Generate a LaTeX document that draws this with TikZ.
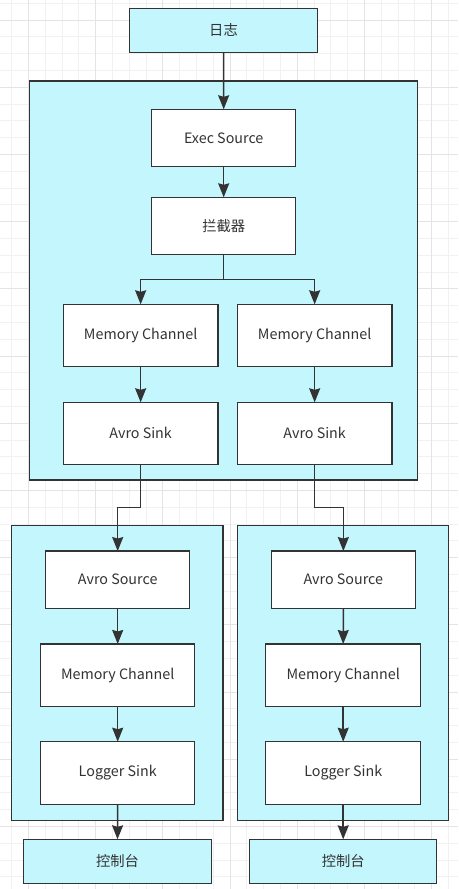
\documentclass[tikz,border=0pt]{standalone}
\usepackage{fontspec}
\setmainfont{Noto Sans CJK SC}
\usetikzlibrary{arrows.meta}
\definecolor{cyanfill}{HTML}{C4F7FD}
\definecolor{edge}{HTML}{333333}
\definecolor{gridminor}{HTML}{F1F1F1}
\definecolor{gridmajor}{HTML}{E4E4E4}
\begin{document}
\begin{tikzpicture}[x=1pt,y=-1pt,
  box/.style={draw=edge, line width=1.5pt, fill=white, inner sep=0pt, outer sep=0pt, text=edge, font=\fontsize{14.3}{16}\selectfont},
  cbox/.style={box, fill=cyanfill},
  frame/.style={draw=edge, line width=1.5pt, fill=cyanfill, inner sep=0pt, outer sep=0pt},
  conn/.style={draw=edge, line width=1.5pt, -{Stealth[length=14pt,width=11pt,inset=1.5pt]}}]
\useasboundingbox (0,0) rectangle (458,889);
\fill[white] (0,0) rectangle (458,889);
% grid
\foreach \i in {0,...,26} \draw[gridminor, line width=1pt] (11.7+16.8*\i,0) -- ++(0,889);
\foreach \i in {0,...,52} \draw[gridminor, line width=1pt] (0,3.3+16.8*\i) -- ++(458,0);
\foreach \i in {1,5,...,25} \draw[gridmajor, line width=1pt] (11.7+16.8*\i,0) -- ++(0,889);
\foreach \i in {1,5,...,49} \draw[gridmajor, line width=1pt] (0,3.3+16.8*\i) -- ++(458,0);
% containers
\node[frame, minimum width=388.4pt, minimum height=399pt] (topframe) at (223.5,280.5) {};
\node[frame, minimum width=211.3pt, minimum height=294.6pt] (leftframe) at (117.35,673) {};
\node[frame, minimum width=211pt, minimum height=294.6pt] (rightframe) at (342.8,673) {};
% boxes
\node[cbox, minimum width=188.4pt, minimum height=44pt] (log) at (223.5,30.3) {日志};
\node[box, minimum width=144pt, minimum height=57.4pt] (exec) at (223.7,138) {Exec Source};
\node[box, minimum width=144pt, minimum height=57.4pt] (lan) at (223.7,226) {拦截器};
\node[box, minimum width=154.7pt, minimum height=62.4pt] (mcL) at (140.65,335.5) {Memory Channel};
\node[box, minimum width=154.7pt, minimum height=62.4pt] (mcR) at (314.65,335.5) {Memory Channel};
\node[box, minimum width=154.7pt, minimum height=62pt] (asL) at (140.65,433.3) {Avro Sink};
\node[box, minimum width=154.7pt, minimum height=62pt] (asR) at (314.65,433.3) {Avro Sink};
\node[box, minimum width=144pt, minimum height=57.3pt] (srcL) at (117.7,579.7) {Avro Source};
\node[box, minimum width=144pt, minimum height=57.3pt] (srcR) at (343.35,579.7) {Avro Source};
\node[box, minimum width=154pt, minimum height=62.7pt] (memL) at (117.7,675.3) {Memory Channel};
\node[box, minimum width=155pt, minimum height=62.7pt] (memR) at (343.2,675.3) {Memory Channel};
\node[box, minimum width=154pt, minimum height=62.6pt] (logL) at (117.7,773) {Logger Sink};
\node[box, minimum width=155pt, minimum height=62.6pt] (logR) at (343.2,773) {Logger Sink};
\node[cbox, minimum width=188.4pt, minimum height=44pt] (conL) at (117.5,861.3) {控制台};
\node[cbox, minimum width=187pt, minimum height=44pt] (conR) at (343.2,861.3) {控制台};
% connectors
\draw[conn] (log.south) -- (exec.north);
\draw[conn] (exec.south) -- (lan.north);
\draw[conn] (lan.south) -- ++(0,24.6) -| (mcL.north);
\draw[conn] (lan.south) -- ++(0,24.6) -| (mcR.north);
\draw[conn] (mcL.south) -- (asL.north);
\draw[conn] (mcR.south) -- (asR.north);
\draw[conn] (asL.south) -- ++(0,43.4) -| (srcL.north);
\draw[conn] (asR.south) -- ++(0,43.4) -| (srcR.north);
\draw[conn] (srcL.south) -- (memL.north);
\draw[conn] (srcR.south) -- (memR.north);
\draw[conn] (memL.south) -- (logL.north);
\draw[conn] (memR.south) -- (logR.north);
\draw[conn] (logL.south) -- (conL.north);
\draw[conn] (logR.south) -- (conR.north);
\end{tikzpicture}
\end{document}
